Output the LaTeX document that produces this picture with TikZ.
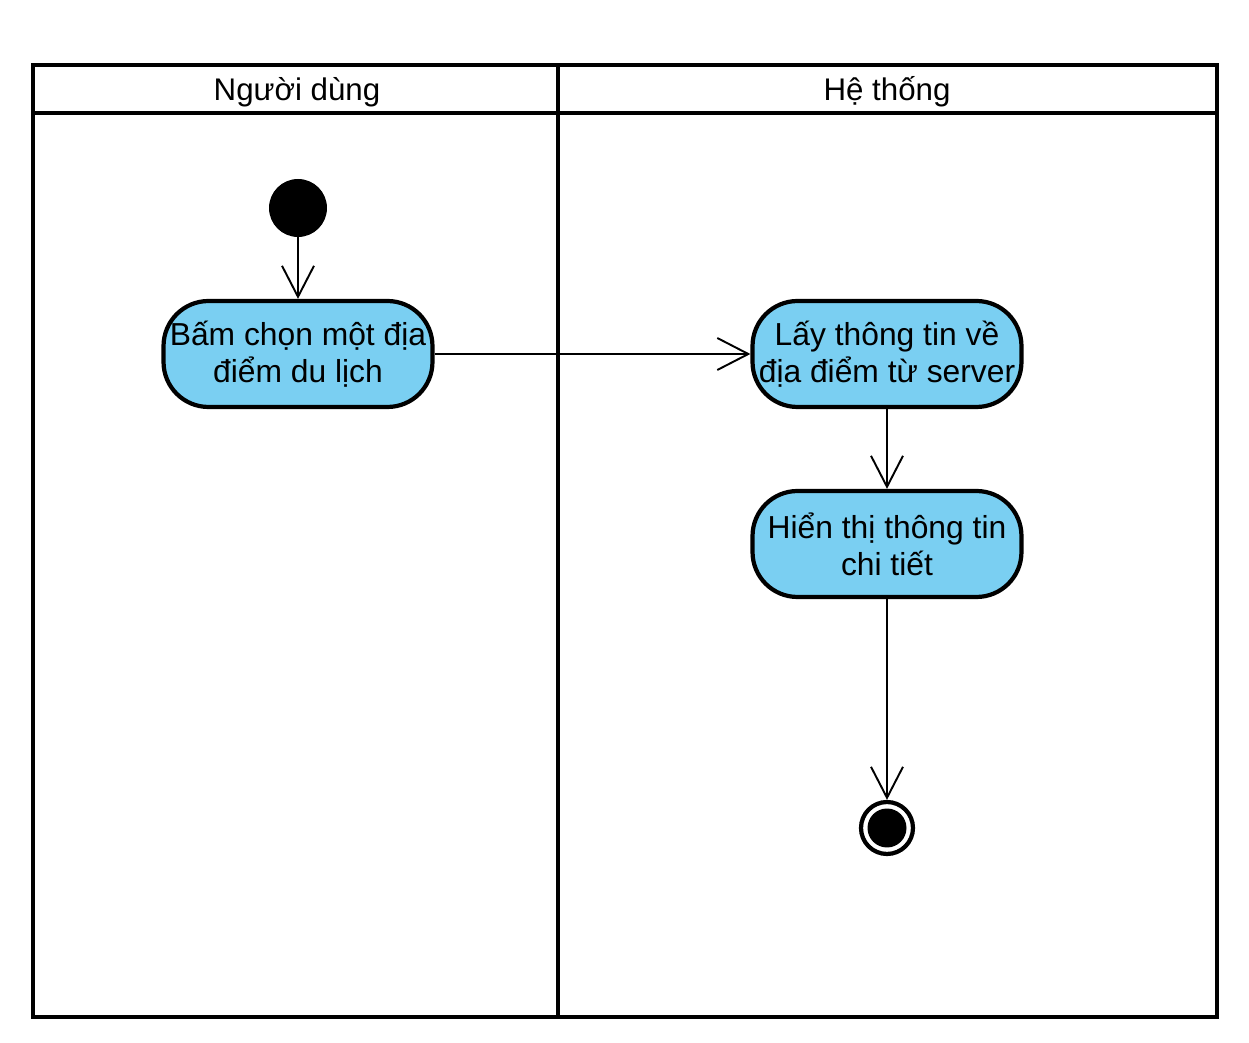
\documentclass[tikz,border=0pt]{standalone}
\usepackage{fontspec}
\setmainfont{Liberation Sans}
\usepackage{xcolor}
\usetikzlibrary{arrows.meta, positioning}

\definecolor{actblue}{HTML}{7ACFF2}

\begin{document}
\begin{tikzpicture}[
  x=0.02cm, y=-0.02cm,
  actbox/.style={rectangle, rounded corners=0.9cm,
    draw=black, fill=actblue, line width=2.4pt,
    minimum width=5.38cm, minimum height=2.12cm,
    align=center, inner sep=2pt,
    font=\fontsize{18.1}{21}\selectfont},
  lanetitle/.style={font=\fontsize{17.8}{21}\selectfont},
  startnode/.style={circle, fill=black, minimum size=1.16cm, inner sep=0pt},
  stopnode/.style={circle, draw=black, line width=2.4pt, fill=white,
    minimum size=1.04cm, inner sep=0pt},
  arr/.style={-{Straight Barb[length=6.2mm, width=6.4mm]}, line width=1.1pt}
]
\useasboundingbox (0,0) rectangle (1249,1043);

%% ==== Swimlanes ====
\draw[line width=2.4pt] (33,65) rectangle (1217,1017);
\draw[line width=2.4pt] (33,113) -- (1217,113);
\draw[line width=2.4pt] (558,65) -- (558,1017);
\node[lanetitle] (L1) at (297,92) {Người dùng};
\node[lanetitle] (L2) at (887,92) {Hệ thống};

%% ==== Nodes ====
\node[startnode] (S) at (298,208) {};
\node[actbox] (A1) at (298,354) {Bấm chọn một địa\\điểm du lịch};
\node[actbox] (A2) at (887,354) {Lấy thông tin về\\địa điểm từ server};
\node[actbox] (A3) at (887,544) {Hiển thị thông tin\\chi tiết};
\node[stopnode] (E) at (887,828) {};
\fill (E.center) circle (0.39cm);

%% ==== Arrows ====
\draw[arr] (S) -- (A1);
\draw[arr] (A1) -- (A2);
\draw[arr] (A2) -- (A3);
\draw[arr] (A3) -- (E);

\end{tikzpicture}
\end{document}
